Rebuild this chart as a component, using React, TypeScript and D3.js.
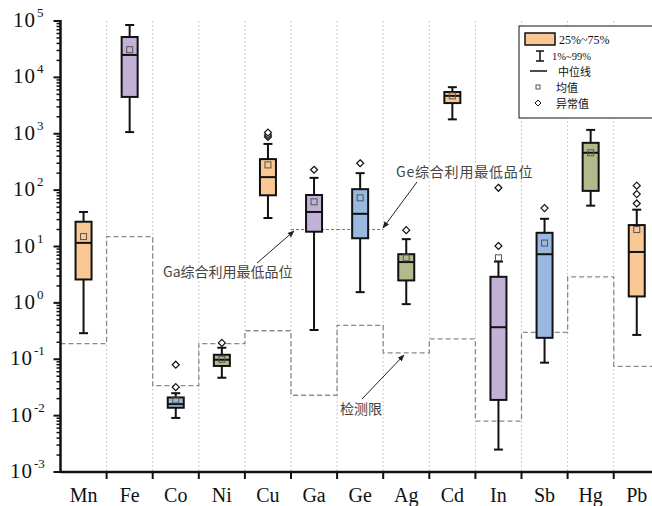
import * as d3 from 'd3';

// element categories
const elements = ['Mn', 'Fe', 'Co', 'Ni', 'Cu', 'Ga', 'Ge', 'Ag', 'Cd', 'In', 'Sb', 'Hg', 'Pb'];
// 1% / 25% / 50% / 75% / 99% and mean
const p01 = [0.29, 1070, 0.0091, 0.047, 32, 0.33, 1.55, 0.95, 1800, 0.0025, 0.087, 53, 0.27];
const p25 = [2.6, 4500, 0.0138, 0.076, 81, 18.3, 14, 2.5, 3500, 0.019, 0.24, 97, 1.3];
const p50 = [11.6, 25000, 0.016, 0.098, 170, 41, 38, 5.3, 4700, 0.37, 7.3, 460, 8];
const p75 = [27.5, 52000, 0.021, 0.12, 355, 82, 104, 7.3, 5500, 2.9, 17.5, 690, 24];
const p99 = [41, 85000, 0.025, 0.16, 660, 165, 200, 13.5, 6700, 5.4, 31, 1170, 45];
const means = [15, 31000, 0.019, 0.1, 280, 62, 73, 6.3, 4700, 6.3, 11.5, 460, 20];
const outliers = [
  [], [], [0.032, 0.08], [0.195], [880, 950, 1050], [230], [300], [19.5], [], [10.2, 110], [48], [], [58, 85, 120],
];
// detection limits (dashed step line)
const detectLimit = [0.19, 15, 0.034, 0.19, 0.32, 0.023, 0.4, 0.13, 0.23, 0.008, 0.3, 2.9, 0.075];
const minGrade = 20; // Ga / Ge 综合利用最低品位
const palette = ['#F9C894', '#C2B1D6', '#9AB9E0', '#B2B98C'];
const yTicks = [-3, -2, -1, 0, 1, 2, 3, 4, 5];

const W = 652;
const H = 506;
const X0 = 60.5;
const STEP = 46.1;
const BOX_W = 16;
const CAP_W = 9;
const SERIF = '"Liberation Serif", "DejaVu Serif", serif';
const CJK = '"Noto Sans CJK SC", sans-serif';

export default function App() {
  const x = d3
    .scaleBand<string>()
    .domain(elements)
    .range([X0, X0 + STEP * elements.length])
    .padding(0);
  const y = d3.scaleLog().domain([1e-3, 1e5]).range([472, 21]);
  const cx = (e: string) => (x(e) ?? 0) + x.bandwidth() / 2;

  // step path for detection limits
  const stepPts: [number, number][] = [];
  elements.forEach((e, i) => {
    stepPts.push([x(e) ?? 0, y(detectLimit[i])]);
    stepPts.push([(x(e) ?? 0) + x.bandwidth(), y(detectLimit[i])]);
  });
  const stepPath = d3.line()(stepPts) ?? '';

  const minorTicks: number[] = [];
  for (let d = -3; d < 5; d++) for (let k = 2; k <= 9; k++) minorTicks.push(k * Math.pow(10, d));

  const gaX = x('Ga') ?? 0;
  const geX = x('Ge') ?? 0;
  const gradeY = y(minGrade);

  return (
    <svg width={W} height={H} style={{ position: 'absolute', left: 0, top: 0, background: '#fff' }}>
      <defs>
        <marker id="arr" viewBox="0 0 10 10" refX="9" refY="5" markerWidth="7" markerHeight="7" orient="auto">
          <path d="M0,1 L10,5 L0,9 z" fill="#222" />
        </marker>
      </defs>

      {/* vertical dotted separators */}
      {elements.slice(1).map((e) => (
        <line key={e} x1={x(e)} x2={x(e)} y1={21} y2={472} stroke="#bbb" strokeWidth={1} strokeDasharray="1.5 2.5" />
      ))}

      {/* detection limit step line */}
      <path d={stepPath} fill="none" stroke="#8a8a8a" strokeWidth={1.3} strokeDasharray="5 3" />

      {/* Ga / Ge minimum grade */}
      <line x1={gaX} x2={gaX + x.bandwidth()} y1={gradeY} y2={gradeY} stroke="#e0443a" strokeWidth={1} strokeDasharray="3 2" />
      <line x1={geX} x2={geX + x.bandwidth()} y1={gradeY} y2={gradeY} stroke="#2fa650" strokeWidth={1} strokeDasharray="3 2" />

      {/* boxes */}
      {elements.map((e, i) => {
        const c = cx(e);
        const col = palette[i % 4];
        return (
          <g key={e}>
            <line x1={c} x2={c} y1={y(p99[i])} y2={y(p01[i])} stroke="#111" strokeWidth={2} />
            <line x1={c - CAP_W / 2} x2={c + CAP_W / 2} y1={y(p99[i])} y2={y(p99[i])} stroke="#111" strokeWidth={2} />
            <line x1={c - CAP_W / 2} x2={c + CAP_W / 2} y1={y(p01[i])} y2={y(p01[i])} stroke="#111" strokeWidth={2} />
            <rect
              x={c - BOX_W / 2}
              y={y(p75[i])}
              width={BOX_W}
              height={y(p25[i]) - y(p75[i])}
              fill={col}
              stroke="#111"
              strokeWidth={2}
            />
            <line x1={c - BOX_W / 2} x2={c + BOX_W / 2} y1={y(p50[i])} y2={y(p50[i])} stroke="#111" strokeWidth={2} />
            <rect x={c - 3} y={y(means[i]) - 3} width={6} height={6} fill="none" stroke="#555" strokeWidth={1} />
            {outliers[i].map((o, j) => (
              <path
                key={j}
                d={`M${c},${y(o) - 3.5} L${c + 3.5},${y(o)} L${c},${y(o) + 3.5} L${c - 3.5},${y(o)} Z`}
                fill="#fff"
                stroke="#111"
                strokeWidth={1.2}
              />
            ))}
          </g>
        );
      })}

      {/* annotations */}
      <text x={163} y={277} fontFamily={CJK} fontSize={14} fill="#444">
        Ga综合利用最低品位
      </text>
      <line x1={257} y1={263} x2={294} y2={231} stroke="#222" strokeWidth={1} markerEnd="url(#arr)" />
      <text x={396} y={177} fontFamily={CJK} fontSize={14} fill="#444" letterSpacing={0.8}>
        Ge综合利用最低品位
      </text>
      <line x1={417} y1={182} x2={383} y2={228} stroke="#222" strokeWidth={1} markerEnd="url(#arr)" />
      <text x={340} y={414} fontFamily={CJK} fontSize={14} fill="#444">
        检测限
      </text>
      <line x1={362} y1={399} x2={404} y2={355} stroke="#222" strokeWidth={1} markerEnd="url(#arr)" />

      {/* axes */}
      <line x1={X0} x2={W} y1={472} y2={472} stroke="#111" strokeWidth={2.5} />
      <line x1={X0} x2={X0} y1={20} y2={473} stroke="#111" strokeWidth={2.5} />
      {elements.slice(1).map((e) => (
        <line key={e} x1={x(e)} x2={x(e)} y1={472} y2={479} stroke="#111" strokeWidth={2} />
      ))}
      {minorTicks.map((t) => (
        <line key={t} x1={X0 - 4} x2={X0} y1={y(t)} y2={y(t)} stroke="#111" strokeWidth={1.5} />
      ))}
      {yTicks.map((p) => {
        const base = p < 0 ? 33 : 36;
        return (
          <g key={p}>
            <line x1={X0 - 7} x2={X0} y1={y(Math.pow(10, p))} y2={y(Math.pow(10, p))} stroke="#111" strokeWidth={2} />
            <text x={base} y={y(Math.pow(10, p)) + 6} textAnchor="end" fontFamily={SERIF} fontSize={21} fill="#111" letterSpacing={1}>
              10
            </text>
            <text x={base + 1} y={y(Math.pow(10, p)) - 4} fontFamily={SERIF} fontSize={13} fill="#111">
              {p < 0 ? `-${-p}` : p}
            </text>
          </g>
        );
      })}
      {elements.map((e) => (
        <text key={e} x={cx(e)} y={502} textAnchor="middle" fontFamily={SERIF} fontSize={20} fill="#111">
          {e}
        </text>
      ))}

      {/* legend */}
      <rect x={519} y={26} width={140} height={92} fill="#fff" stroke="#111" strokeWidth={1} />
      <rect x={525} y={33} width={30} height={12} fill={palette[0]} stroke="#111" strokeWidth={1.5} />
      <text x={559} y={44} fontFamily={SERIF} fontSize={12} fill="#111">25%~75%</text>
      <line x1={540} x2={540} y1={51} y2={61} stroke="#111" strokeWidth={1.5} />
      <line x1={536} x2={544} y1={51} y2={51} stroke="#111" strokeWidth={1.5} />
      <line x1={536} x2={544} y1={61} y2={61} stroke="#111" strokeWidth={1.5} />
      <text x={552} y={60} fontFamily={SERIF} fontSize={10.5} fill="#111">1%~99%</text>
      <line x1={530} x2={547} y1={71} y2={71} stroke="#111" strokeWidth={1.5} />
      <text x={558} y={75.5} fontFamily={CJK} fontSize={11} fill="#111">中位线</text>
      <rect x={536} y={85} width={4} height={4} fill="none" stroke="#555" strokeWidth={1} />
      <text x={556} y={92} fontFamily={CJK} fontSize={11} fill="#111">均值</text>
      <path d="M538,100 L541,103 L538,106 L535,103 Z" fill="#fff" stroke="#111" strokeWidth={1} />
      <text x={556} y={108} fontFamily={CJK} fontSize={11} fill="#111">异常值</text>
    </svg>
  );
}
